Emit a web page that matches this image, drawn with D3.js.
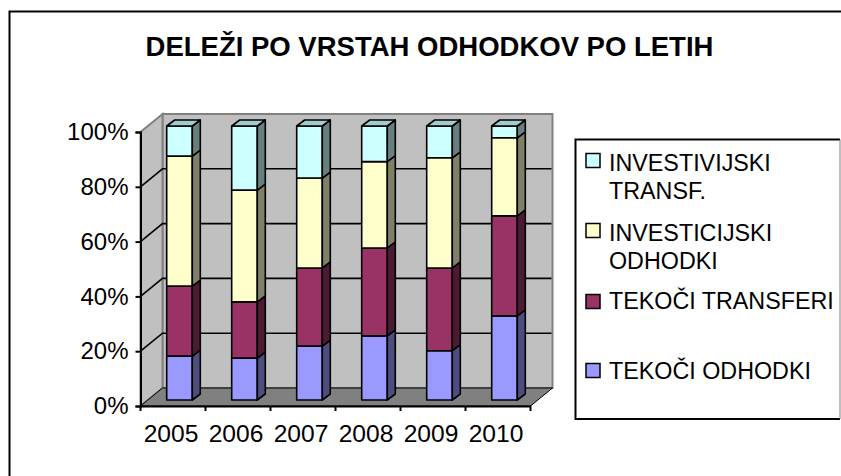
<!DOCTYPE html>
<html>
<head>
<meta charset="utf-8">
<script src="https://cdn.jsdelivr.net/npm/d3@7/dist/d3.min.js"></script>
<style>
html, body { margin: 0; padding: 0; background: #fff; overflow: hidden; }
text { font-family: "Liberation Sans", Arial, sans-serif; fill: #000; }
</style>
</head>
<body>
<svg width="841" height="476"></svg>
<script>
const years = ["2005", "2006", "2007", "2008", "2009", "2010"]
const tekociOdhodki = [16, 15.3, 19.7, 23.4, 18, 30.7]
const tekociTransferi = [25.6, 20.5, 28.5, 32.1, 30.2, 36.5]
const investicijskiOdhodki = [47.4, 40.8, 32.8, 31.5, 40.2, 28.5]
const investicijskiTransf = [11, 23.4, 19, 13, 11.6, 4.3]
const yTicks = [0, 20, 40, 60, 80, 100]

const seriesKeys = ["odhodki", "transferi", "invOdhodki", "invTransf"]
const seriesColors = ["#9999ff", "#993366", "#ffffcc", "#ccffff"]
const sideColors = ["#4d4d80", "#4d1a33", "#808066", "#668080"]
const topColors = ["#7a7acc", "#7a2952", "#cccca3", "#a3cccc"]

const margin = { left: 140.5, right: 530.5, top: 132, bottom: 406 }
const wallDepth = { x: 22, y: -18 }
const barDepth = { x: 8, y: -6 }
const barOffsetX = 6.5

const svg = d3.select("svg")

const rows = years.map((year, i) => ({
	year,
	odhodki: tekociOdhodki[i],
	transferi: tekociTransferi[i],
	invOdhodki: investicijskiOdhodki[i],
	invTransf: investicijskiTransf[i],
}))
const stacked = d3.stack().keys(seriesKeys)(rows)

const x = d3.scaleBand().domain(years).range([margin.left, margin.right]).padding(0)
const y = d3.scaleLinear().domain([0, 100]).range([margin.bottom, margin.top])
const barY = d3.scaleLinear().domain([0, 100]).range([400, 126])
const barWidth = x.bandwidth() * 0.394

const poly = (points) => points.map((p) => p.join(",")).join(" ")

// frame
svg.append("path")
	.attr("d", "M9.5,480V11.5H846")
	.attr("fill", "none")
	.attr("stroke", "#000")
	.attr("stroke-width", 2)

// title
svg.append("text")
	.attr("x", 429.5)
	.attr("y", 56)
	.attr("text-anchor", "middle")
	.attr("font-size", 27.5)
	.attr("font-weight", "bold")
	.text("DELEŽI PO VRSTAH ODHODKOV PO LETIH")

// walls and floor
const plotLeft = margin.left
const plotRight = margin.right
const plotTop = y(100)
const plotBottom = y(0)
const dx = wallDepth.x
const dy = wallDepth.y

const walls = svg.append("g")
walls.append("polygon")
	.attr("points", poly([[plotLeft + dx, plotTop + dy], [plotRight + dx, plotTop + dy], [plotRight + dx, plotBottom + dy], [plotLeft + dx, plotBottom + dy]]))
	.attr("fill", "#c0c0c0")
	.attr("stroke", "#808080")
	.attr("stroke-width", 2)
walls.append("polygon")
	.attr("points", poly([[plotLeft, plotTop], [plotLeft + dx, plotTop + dy], [plotLeft + dx, plotBottom + dy], [plotLeft, plotBottom]]))
	.attr("fill", "#c0c0c0")
	.attr("stroke", "#808080")
	.attr("stroke-width", 2)
walls.append("polygon")
	.attr("points", poly([[plotLeft, plotBottom], [plotLeft + dx, plotBottom + dy], [plotRight + dx, plotBottom + dy], [plotRight, plotBottom]]))
	.attr("fill", "#808080")
	.attr("stroke", "#000")
	.attr("stroke-width", 1)

// gridlines
walls.selectAll(".grid")
	.data(yTicks.slice(1, -1))
	.enter()
	.append("path")
	.attr("d", (d) => `M${plotLeft},${y(d)}L${plotLeft + dx},${y(d) + dy}H${plotRight + dx - 1}`)
	.attr("fill", "none")
	.attr("stroke", "#000")
	.attr("stroke-width", 1.6)

// bars
const bars = svg.append("g")
	.attr("stroke", "#000")
	.attr("stroke-width", 1.6)
	.attr("stroke-linejoin", "round")

stacked.forEach((layer, s) => {
	const g = bars.append("g")
	layer.forEach((d) => {
		const x0 = x(d.data.year) + (x.bandwidth() - barWidth) / 2 + barOffsetX
		const x1 = x0 + barWidth
		const y0 = barY(d[0])
		const y1 = barY(d[1])
		g.append("rect")
			.attr("x", x0)
			.attr("y", y1)
			.attr("width", barWidth)
			.attr("height", y0 - y1)
			.attr("fill", seriesColors[s])
		g.append("polygon")
			.attr("points", poly([[x1, y1], [x1 + barDepth.x, y1 + barDepth.y], [x1 + barDepth.x, y0 + barDepth.y], [x1, y0]]))
			.attr("fill", sideColors[s])
		if (s === stacked.length - 1) {
			g.append("polygon")
				.attr("points", poly([[x0, y1], [x0 + barDepth.x, y1 + barDepth.y], [x1 + barDepth.x, y1 + barDepth.y], [x1, y1]]))
				.attr("fill", topColors[s])
		}
	})
})

// axes
const yAxis = d3.axisLeft(y).tickValues(yTicks).tickSize(5).tickPadding(7).tickFormat((d) => d + "%")
const xAxis = d3.axisBottom(x).tickSize(0).tickSizeOuter(0).tickPadding(19)

const yAxisGroup = svg.append("g").attr("transform", `translate(${plotLeft}, 0)`).call(yAxis)
const xAxisGroup = svg.append("g").attr("transform", `translate(0, ${plotBottom})`).call(xAxis)

yAxisGroup.attr("font-family", null).attr("font-size", null)
xAxisGroup.attr("font-family", null).attr("font-size", null)
yAxisGroup.selectAll("text").attr("font-size", 24)
xAxisGroup.selectAll("text").attr("font-size", 24.6).attr("dx", -2)
yAxisGroup.selectAll("line, path").attr("stroke", "#000").attr("stroke-width", 2)
xAxisGroup.selectAll("path").attr("stroke", "#000").attr("stroke-width", 2)
xAxisGroup.selectAll(".edge")
	.data(x.domain().concat("end"))
	.enter()
	.append("line")
	.attr("class", "edge")
	.attr("x1", (d) => (d === "end" ? plotRight : x(d)))
	.attr("x2", (d) => (d === "end" ? plotRight : x(d)))
	.attr("y2", 5)
	.attr("stroke", "#000")
	.attr("stroke-width", 2)

// legend
const legendItems = [
	{ lines: ["INVESTIVIJSKI", "TRANSF."], color: seriesColors[3], y: 153.5, base: 17 },
	{ lines: ["INVESTICIJSKI", "ODHODKI"], color: seriesColors[2], y: 223.5, base: 17 },
	{ lines: ["TEKOČI TRANSFERI"], color: seriesColors[1], y: 294.5, base: 14 },
	{ lines: ["TEKOČI ODHODKI"], color: seriesColors[0], y: 363.5, base: 15 },
]
svg.append("path")
	.attr("d", "M840,139.5H575.5V419H840")
	.attr("fill", "#fff")
	.attr("stroke", "#000")
	.attr("stroke-width", 2)
svg.append("path")
	.attr("d", "M840,139.5V419")
	.attr("stroke", "#808080")
	.attr("stroke-width", 1)

const legend = svg.selectAll(".legend")
	.data(legendItems)
	.enter()
	.append("g")
	.attr("class", "legend")
	.attr("transform", (d) => `translate(0, ${d.y})`)
legend.append("rect")
	.attr("x", 586)
	.attr("y", 0)
	.attr("width", 14)
	.attr("height", 14)
	.attr("fill", (d) => d.color)
	.attr("stroke", "#000")
	.attr("stroke-width", 1.5)
legend.append("text")
	.selectAll("tspan")
	.data((d) => d.lines.map((line) => ({ line, base: d.base })))
	.enter()
	.append("tspan")
	.attr("x", 609)
	.attr("y", (d, i) => d.base + i * 28)
	.attr("font-size", 23.3)
	.text((d) => d.line)
</script>
</body>
</html>
